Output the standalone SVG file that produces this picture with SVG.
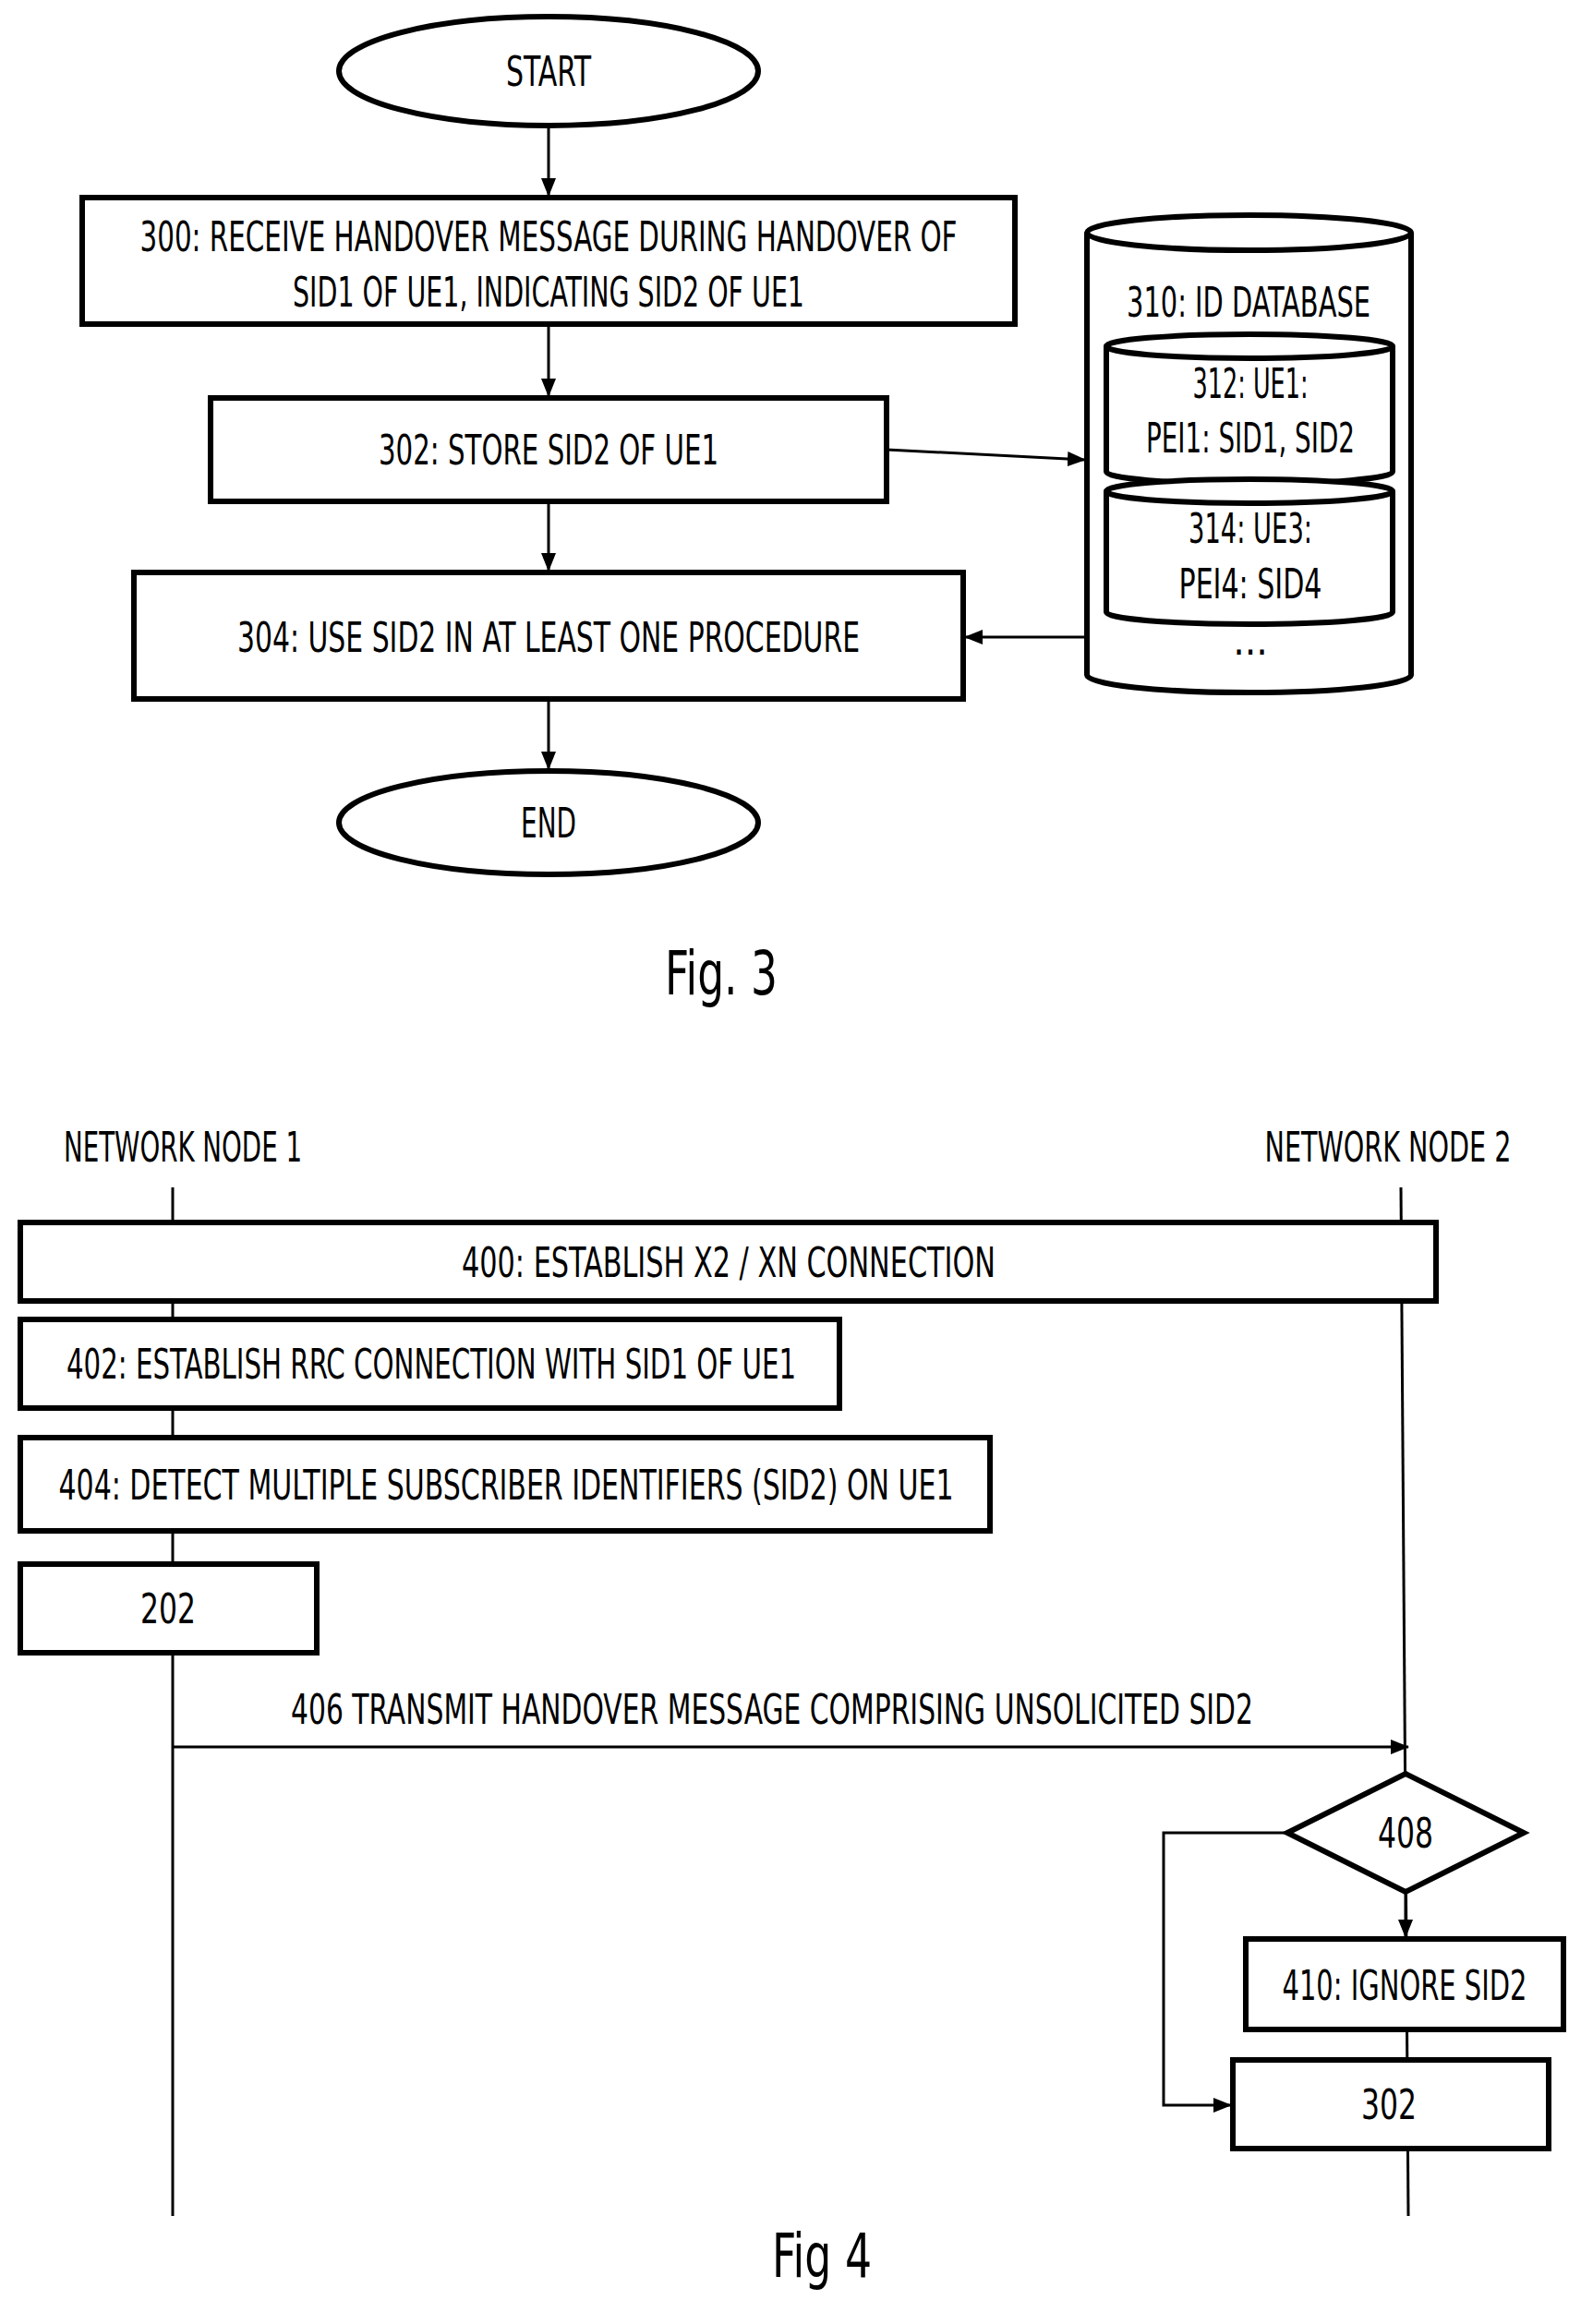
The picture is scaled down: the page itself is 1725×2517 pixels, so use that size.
<svg xmlns="http://www.w3.org/2000/svg" width="1725" height="2517" viewBox="0 0 1725 2517">
<style>
.b{fill:#fff;stroke:#000;stroke-width:6}
.l{fill:none;stroke:#000;stroke-width:3}
text{font-family:"DejaVu Sans Condensed","Liberation Sans",sans-serif;font-size:44px;text-anchor:middle;dominant-baseline:central;fill:#000}
text.fig{font-size:66px}
</style>
<defs>
<marker id="a2" markerWidth="20" markerHeight="20" refX="19" refY="10" orient="auto" markerUnits="userSpaceOnUse" viewBox="0 0 20 20"><path d="M0,2L20,10L0,18z"/></marker></defs>
<g id="connectors">
<line class="l" x1="594" y1="137" x2="594" y2="212" marker-end="url(#a2)"/>
<line class="l" x1="594" y1="351" x2="594" y2="429" marker-end="url(#a2)"/>
<line class="l" x1="594" y1="543" x2="594" y2="618" marker-end="url(#a2)"/>
<line class="l" x1="594" y1="757" x2="594" y2="833" marker-end="url(#a2)"/>
<line class="l" x1="960" y1="487" x2="1175" y2="498" marker-end="url(#a2)"/>
<line class="l" x1="1177" y1="690" x2="1045" y2="690" marker-end="url(#a2)"/>
<line class="l" x1="187" y1="1286" x2="187" y2="2400"/>
<line class="l" x1="1517" y1="1286" x2="1525" y2="2400"/>
<line class="l" x1="187" y1="1892" x2="1525" y2="1892" marker-end="url(#a2)"/>
<line class="l" x1="1522" y1="2049" x2="1522" y2="2098" stroke-width="5" marker-end="url(#a2)"/>
<polyline class="l" points="1394,1985 1260,1985 1260,2280 1333,2280" marker-end="url(#a2)"/>
</g>
<g id="start"><ellipse class="b" cx="594" cy="77" rx="227" ry="59"/><text x="594" y="77" textLength="92" lengthAdjust="spacingAndGlyphs">START</text></g>
<g id="n300"><rect class="b" x="89" y="214" width="1010" height="137"/><text x="594" y="256" textLength="885" lengthAdjust="spacingAndGlyphs">300: RECEIVE HANDOVER MESSAGE DURING HANDOVER OF</text><text x="594" y="316" textLength="554" lengthAdjust="spacingAndGlyphs">SID1 OF UE1, INDICATING SID2 OF UE1</text></g>
<g id="n302"><rect class="b" x="228" y="431" width="732" height="112"/><text x="594" y="487" textLength="368" lengthAdjust="spacingAndGlyphs">302: STORE SID2 OF UE1</text></g>
<g id="n304"><rect class="b" x="145" y="620" width="898" height="137"/><text x="594" y="690" textLength="674" lengthAdjust="spacingAndGlyphs">304: USE SID2 IN AT LEAST ONE PROCEDURE</text></g>
<g id="end"><ellipse class="b" cx="594" cy="891" rx="227" ry="56"/><text x="594" y="891" textLength="60" lengthAdjust="spacingAndGlyphs">END</text></g>
<g id="n310"><path class="b" d="M1177,252 V731 A175,19 0 0 0 1528,731 V252 A175,19 0 0 0 1177,252 A175,19 0 0 0 1528,252"/><text x="1352" y="327" textLength="264" lengthAdjust="spacingAndGlyphs">310: ID DATABASE</text><text x="1354" y="693">...</text></g>
<g id="n312"><path class="b" d="M1198,375 V511 A155,13 0 0 0 1508,511 V375 A155,13 0 0 0 1198,375 A155,13 0 0 0 1508,375"/><text x="1354" y="415" textLength="125" lengthAdjust="spacingAndGlyphs">312: UE1:</text><text x="1354" y="474" textLength="226" lengthAdjust="spacingAndGlyphs">PEI1: SID1, SID2</text></g>
<g id="n314"><path class="b" d="M1198,532 V663 A155,13 0 0 0 1508,663 V532 A155,13 0 0 0 1198,532 A155,13 0 0 0 1508,532"/><text x="1354" y="572" textLength="134" lengthAdjust="spacingAndGlyphs">314: UE3:</text><text x="1354" y="632" textLength="155" lengthAdjust="spacingAndGlyphs">PEI4: SID4</text></g>
<text class="fig" x="781" y="1054" textLength="122" lengthAdjust="spacingAndGlyphs">Fig. 3</text>
<g id="nn1"><text x="198" y="1242" textLength="258" lengthAdjust="spacingAndGlyphs">NETWORK NODE 1</text></g>
<g id="nn2"><text x="1503" y="1242" textLength="267" lengthAdjust="spacingAndGlyphs">NETWORK NODE 2</text></g>
<g id="n400"><rect class="b" x="22" y="1324" width="1533" height="85"/><text x="789" y="1367" textLength="578" lengthAdjust="spacingAndGlyphs">400: ESTABLISH X2 / XN CONNECTION</text></g>
<g id="n402"><rect class="b" x="22" y="1429" width="887" height="96"/><text x="467" y="1477" textLength="790" lengthAdjust="spacingAndGlyphs">402: ESTABLISH RRC CONNECTION WITH SID1 OF UE1</text></g>
<g id="n404"><rect class="b" x="22" y="1557" width="1050" height="101"/><text x="548" y="1608" textLength="969" lengthAdjust="spacingAndGlyphs">404: DETECT MULTIPLE SUBSCRIBER IDENTIFIERS (SID2) ON UE1</text></g>
<g id="n202"><rect class="b" x="22" y="1694" width="321" height="96"/><text x="182" y="1742" textLength="60" lengthAdjust="spacingAndGlyphs">202</text></g>
<text x="836" y="1851" textLength="1042" lengthAdjust="spacingAndGlyphs">406 TRANSMIT HANDOVER MESSAGE COMPRISING UNSOLICITED SID2</text>
<g id="n408"><polygon class="b" stroke-width="4" points="1522,1921 1650,1985 1522,2049 1394,1985"/><text x="1522" y="1985" textLength="60" lengthAdjust="spacingAndGlyphs">408</text></g>
<g id="n410"><rect class="b" x="1349" y="2100" width="344" height="98"/><text x="1521" y="2150" textLength="265" lengthAdjust="spacingAndGlyphs">410: IGNORE SID2</text></g>
<g id="n302b"><rect class="b" x="1335" y="2231" width="342" height="96"/><text x="1504" y="2279" textLength="60" lengthAdjust="spacingAndGlyphs">302</text></g>
<text class="fig" x="890" y="2443" textLength="108" lengthAdjust="spacingAndGlyphs">Fig 4</text>
</svg>
